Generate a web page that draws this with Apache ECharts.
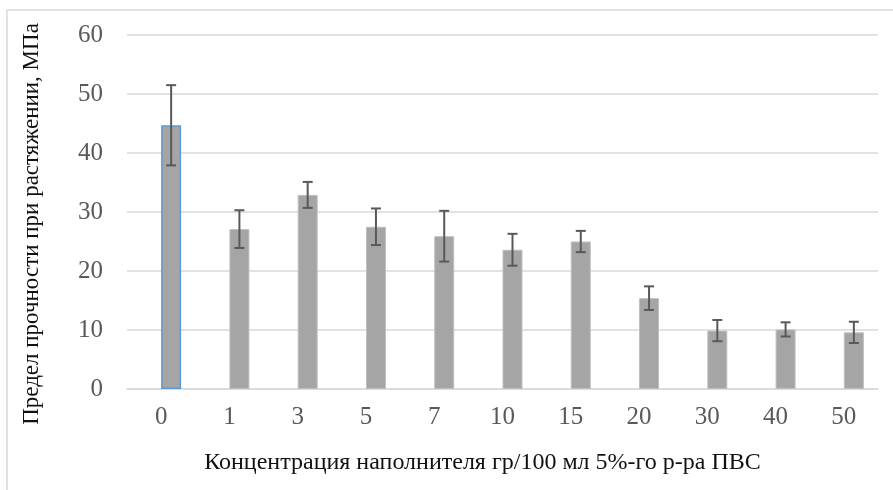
<!DOCTYPE html>
<html>
<head>
<meta charset="utf-8">
<script src="https://cdn.jsdelivr.net/npm/echarts@6/dist/echarts.min.js"></script>
<style>
html, body { margin: 0; padding: 0; background: #fff; }
#Charts { width: 893px; height: 490px; }
</style>
</head>
<body>
<div id="Charts"></div>
<script>
// данные с графика
let categories = ['0', '1', '3', '5', '7', '10', '15', '20', '30', '40', '50']
let values = [44.7, 27.1, 32.9, 27.5, 25.9, 23.6, 25.0, 15.4, 9.9, 10.1, 9.6]
let errors = [6.8, 3.2, 2.2, 3.1, 4.3, 2.7, 1.8, 2.0, 1.8, 1.2, 1.8]
let yTicks = [0, 10, 20, 30, 40, 50, 60]

var chart = echarts.init(document.getElementById('Charts'))

let barData = values.map((v, i) => {
	if (i == 0) {
		return { value: v, itemStyle: { borderColor: '#5B9BD5', borderWidth: 1.5 } }
	}
	return v
})

let errData = values.map((v, i) => [i, v - errors[i], v + errors[i]])

function renderErr(params, api) {
	let x = api.value(0)
	let lo = api.coord([x, api.value(1)])
	let hi = api.coord([x, api.value(2)])
	let cx = lo[0] + 10  // столбец сдвинут вправо (пустая первая серия)
	let cap = 5
	let st = { stroke: '#595959', lineWidth: 2 }
	return {
		type: 'group',
		children: [
			{ type: 'line', shape: { x1: cx, y1: lo[1], x2: cx, y2: hi[1] }, style: st },
			{ type: 'line', shape: { x1: cx - cap, y1: lo[1], x2: cx + cap, y2: lo[1] }, style: st },
			{ type: 'line', shape: { x1: cx - cap, y1: hi[1], x2: cx + cap, y2: hi[1] }, style: st }
		]
	}
}

option = {
	backgroundColor: '#FFFFFF',
	animation: false,
	graphic: [
		{ type: 'rect', shape: { x: 7, y: 10, width: 900, height: 490 }, style: { fill: 'none', stroke: '#D9D9D9', lineWidth: 1.5 }, z: -1 }
	],
	grid: {
		left: 127,
		right: 15,
		top: 35,
		bottom: 101
	},
	xAxis: {
		type: 'category',
		data: categories,
		name: 'Концентрация наполнителя гр/100 мл 5%-го р-ра ПВС',
		nameLocation: 'middle',
		nameGap: 62,
		nameTextStyle: {
			fontFamily: 'Liberation Serif',
			fontSize: 24,
			color: '#111',
			padding: [0, 40, 0, 0]
		},
		axisLine: { lineStyle: { color: '#D9D9D9', width: 1.5 } },
		axisTick: { show: false },
		axisLabel: {
			fontFamily: 'Liberation Serif',
			fontSize: 25,
			color: '#595959',
			margin: 16
		}
	},
	yAxis: {
		type: 'value',
		min: 0,
		max: 60,
		interval: 10,
		name: 'Предел прочности при растяжении, МПа',
		nameLocation: 'middle',
		nameGap: 84,
		nameTextStyle: {
			fontFamily: 'Liberation Serif',
			fontSize: 23,
			color: '#111',
			padding: [0, 24, 0, 0]
		},
		axisLine: { show: false },
		axisTick: { show: false },
		splitLine: { lineStyle: { color: '#D9D9D9', width: 1.5 } },
		axisLabel: {
			fontFamily: 'Liberation Serif',
			fontSize: 25,
			color: '#595959',
			margin: 24,
			formatter: v => yTicks.indexOf(v) >= 0 ? String(v) : ''
		}
	},
	series: [
		{
			// пустая серия, как в исходной диаграмме: столбцы смещены вправо
			name: 'empty',
			type: 'bar',
			barWidth: 20,
			barGap: '0%',
			data: []
		},
		{
			name: 'Предел прочности',
			type: 'bar',
			barWidth: 20,
			barGap: '0%',
			itemStyle: { color: '#A5A5A5', borderColor: '#BFBFBF', borderWidth: 1 },
			data: barData
		},
		{
			name: 'err',
			type: 'custom',
			renderItem: renderErr,
			encode: { x: 0, y: [1, 2] },
			data: errData,
			z: 10
		}
	]
}

chart.setOption(option)
</script>
</body>
</html>
